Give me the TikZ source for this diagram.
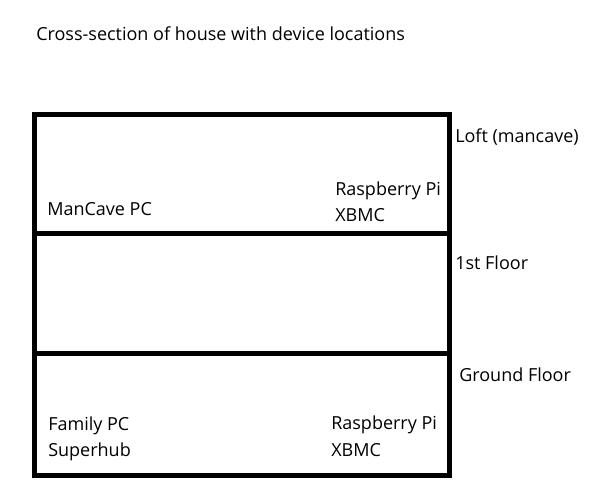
\documentclass[tikz,border=0pt]{standalone}
\usepackage{fontspec}
\setmainfont{Open Sans}
\usepackage{tikz}
\usetikzlibrary{positioning}
\tikzset{
  wall/.style={line width=3.75pt,line cap=rect},
  lbl/.style={font=\fontsize{13.5}{16}\selectfont,anchor=base west,inner sep=0pt},
}

\begin{document}
\begin{tikzpicture}[x=0.75pt,y=-0.75pt]
  \useasboundingbox (0,0) rectangle (614,498);
  \node[lbl] (title) at (36,41) {Cross-section of house with device locations};

  % house outline and floors
  \draw[wall] (34.5,114.5) rectangle (449.5,475.5);
  \draw[wall] (34.5,233.5) -- (449.5,233.5);
  \draw[wall] (34.5,353.5) -- (449.5,353.5);

  % Loft (mancave)
  \node[lbl] (loft) at (455,143) {Loft (mancave)};
  \node[lbl] (mancavepc) at (47,216) {ManCave PC};
  \node[lbl] (pitop) at (335,196) {Raspberry Pi};
  \node[lbl] (xbmctop) at (335,222) {XBMC};

  % 1st floor
  \node[lbl] (first) at (455,270) {1st Floor};

  % Ground floor
  \node[lbl] (ground) at (459,382) {Ground Floor};
  \node[lbl] (familypc) at (48,431) {Family PC};
  \node[lbl] (superhub) at (48,457) {Superhub};
  \node[lbl] (pibottom) at (331,430) {Raspberry Pi};
  \node[lbl] (xbmcbottom) at (331,457) {XBMC};
\end{tikzpicture}
\end{document}
